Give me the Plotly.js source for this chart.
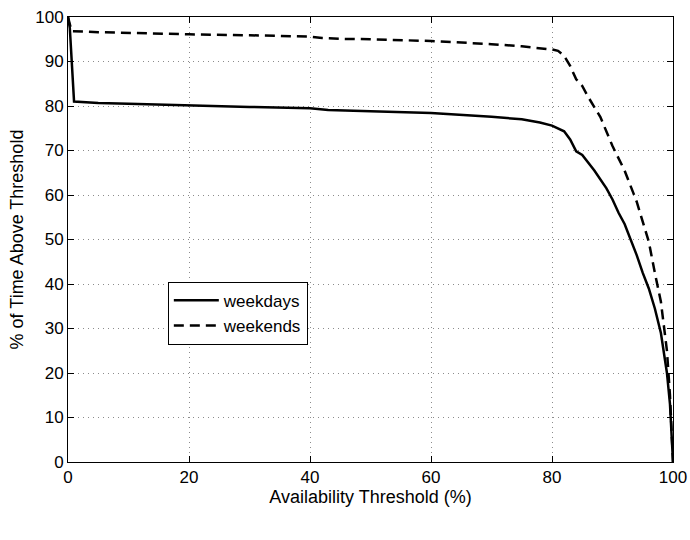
<!DOCTYPE html>
<html>
<head>
<meta charset="utf-8">
<script src="https://cdn.plot.ly/plotly-3.0.1.min.js"></script>
<style>html,body{margin:0;padding:0;background:#fff;}#chart{width:690px;height:540px;}</style>
</head>
<body>
<div id="chart"></div>
<script>
const seriesNames = ["weekdays", "weekends"];
const weekdaysX = [0, 0.3, 1, 5, 10, 20, 30, 40, 43, 50, 60, 70, 75, 78, 80, 82, 83, 84, 85, 87, 89, 90, 91, 92, 93, 94, 95, 96, 97, 98, 99, 99.5, 100];
const weekdaysY = [100, 97.5, 81, 80.7, 80.5, 80.1, 79.8, 79.5, 79.1, 78.8, 78.4, 77.6, 77, 76.3, 75.6, 74.3, 72.5, 69.8, 69, 65.5, 61.5, 59, 56, 53.5, 50, 46.5, 42.5, 39, 34.5, 29, 20, 13, 0];
const weekendsX = [0, 0.6, 5, 10, 20, 30, 40, 42, 45, 50, 60, 70, 75, 80, 81, 82, 83, 84, 85, 86, 88, 90, 92, 94, 96, 97, 98, 99, 99.5, 100];
const weekendsY = [100, 96.8, 96.6, 96.4, 96.1, 95.9, 95.6, 95.3, 95.1, 95, 94.6, 93.9, 93.4, 92.7, 92.4, 91.3, 89, 86, 84.5, 82, 77.5, 71, 65.5, 58.5, 49.5, 42.5, 36, 25, 15, 0];
const xTicks = [0, 20, 40, 60, 80, 100];
const yTicks = [0, 10, 20, 30, 40, 50, 60, 70, 80, 90, 100];

const family = "Liberation Sans, Arial, sans-serif";
const tickFont = {family: family, size: 17, color: "#000"};
const titleFont = {family: family, size: 18, color: "#000"};
const axisCommon = {
  showline: true, linecolor: "#000", linewidth: 1, mirror: "ticks",
  ticks: "inside", ticklen: 6, tickcolor: "#000",
  showgrid: true, gridcolor: "#8c8c8c", griddash: "1px,4px", gridwidth: 1,
  zeroline: false, tickfont: tickFont
};
const traces = [
  {x: weekdaysX, y: weekdaysY, name: seriesNames[0], mode: "lines", type: "scatter",
   line: {color: "#000", width: 2.5}},
  {x: weekendsX, y: weekendsY, name: seriesNames[1], mode: "lines", type: "scatter",
   line: {color: "#000", width: 2.5, dash: "10px,6px"}}
];
const layout = {
  width: 690, height: 540,
  margin: {l: 68, r: 17, t: 17, b: 78},
  paper_bgcolor: "#fff", plot_bgcolor: "#fff",
  font: tickFont,
  showlegend: true,
  legend: {x: 0.165, y: 0.405, xanchor: "left", yanchor: "top",
    bordercolor: "#000", borderwidth: 1, bgcolor: "#fff",
    font: {family: family, size: 17, color: "#000"},
    tracegroupgap: 0, itemwidth: 45},
  xaxis: Object.assign({}, axisCommon, {range: [0, 100], tickvals: xTicks,
    title: {text: "Availability Threshold (%)", font: titleFont, standoff: 2}}),
  yaxis: Object.assign({}, axisCommon, {range: [0, 100], tickvals: yTicks,
    title: {text: "% of Time Above Threshold", font: titleFont, standoff: 6}})
};
Plotly.newPlot("chart", traces, layout, {displayModeBar: false, staticPlot: true});
</script>
</body>
</html>
